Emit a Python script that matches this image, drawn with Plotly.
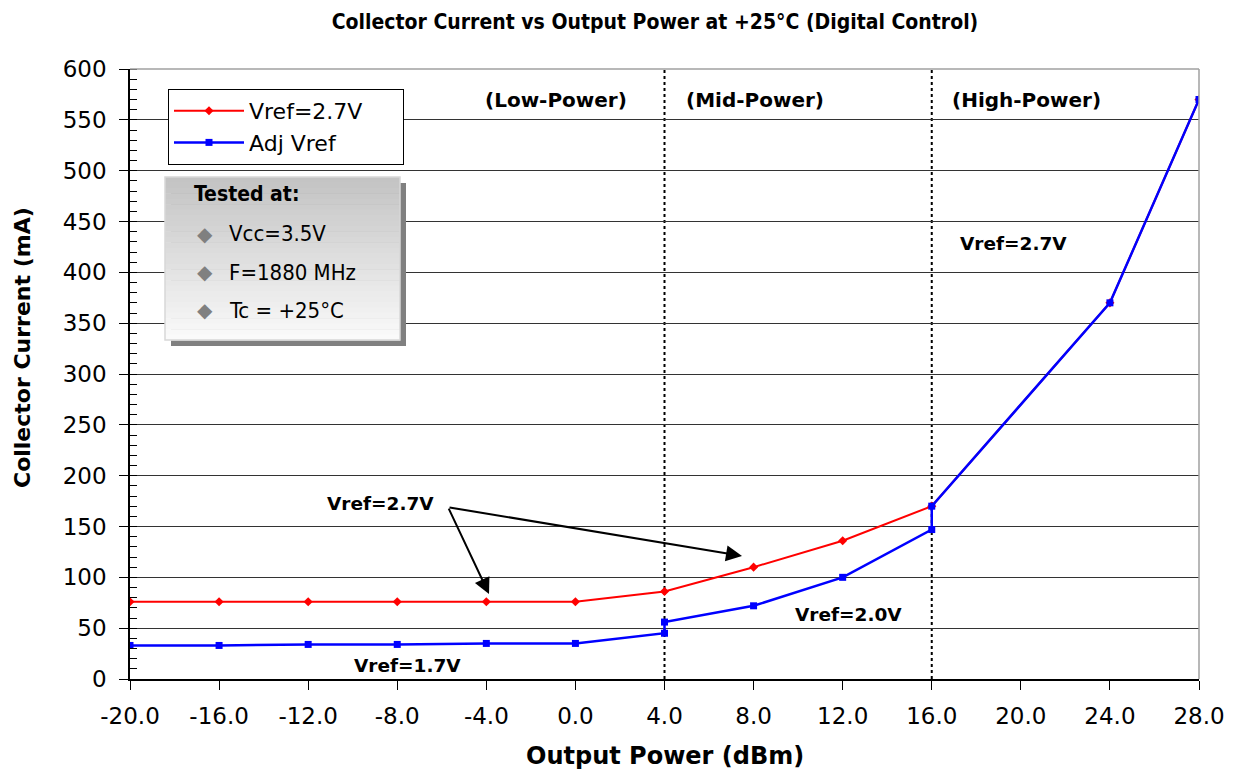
import plotly.graph_objects as go

# ---- data ----
red_x = [-20, -16, -12, -8, -4, 0, 4, 8, 12, 16, 24, 28]
red_y = [76, 76, 76, 76, 76, 76, 86, 110, 136, 170, 370, 570]
blue_x = [-20, -16, -12, -8, -4, 0, 4, 4, 8, 12, 16, 16, 24, 28]
blue_y = [33, 33, 34, 34, 35, 35, 45, 56, 72, 100, 147, 170, 370, 570]
x_ticks = [-20, -16, -12, -8, -4, 0, 4, 8, 12, 16, 20, 24, 28]
x_tick_labels = ["%.1f" % v for v in x_ticks]
region_lines = [4, 16]
tested_lines = ["Vcc=3.5V", "F=1880 MHz", "Tc = +25°C"]
series_names = ["Vref=2.7V", "Adj Vref"]

OFF = 8  # page body margin
W, H = 1240 - OFF, 771 - OFF
L, R, T, B = 130, 1199, 69, 679  # plot area in screen pixels

def px(x):
    return (x - L) / (R - L)

def py(y):
    return (B - y) / (B - T)

SANS = "DejaVu Sans, Liberation Sans, sans-serif"
COND = "DejaVu Sans Condensed, DejaVu Sans, sans-serif"
PAD = "\u00a0" * 5

fig = go.Figure()
fig.add_trace(go.Scatter(x=red_x, y=red_y, mode="lines+markers", name=series_names[0] + PAD,
                         line=dict(color="#ff0000", width=2),
                         marker=dict(symbol="diamond", size=7, color="#ff0000")))
fig.add_trace(go.Scatter(x=blue_x, y=blue_y, mode="lines+markers", name=series_names[1],
                         line=dict(color="#0000ff", width=2.5),
                         marker=dict(symbol="square", size=7, color="#0000ff")))

shapes = []
for xv in region_lines:
    shapes.append(dict(type="line", xref="x", yref="y", x0=xv, x1=xv, y0=0, y1=600,
                       line=dict(color="black", width=2, dash="dot"), layer="below"))
shapes.append(dict(type="line", xref="paper", yref="paper", x0=0, x1=1, y0=1, y1=1,
                   line=dict(color="#a0a0a0", width=1.5)))
shapes.append(dict(type="line", xref="paper", yref="paper", x0=1, x1=1, y0=0, y1=1,
                   line=dict(color="#a0a0a0", width=1.5)))

# "Tested at" box with shadow and gradient
bx0, bx1, by0, by1 = 165, 400, 177, 340
shapes.append(dict(type="rect", xref="paper", yref="paper",
                   x0=px(bx0 + 6), x1=px(bx1 + 6), y0=py(by1 + 6), y1=py(by0 + 6),
                   fillcolor="#808080", line=dict(width=0)))
n = 30
for i in range(n):
    ya = by0 + (by1 - by0) * i / n
    yb = by0 + (by1 - by0) * (i + 1) / n
    g = int(0xc4 + (0xfa - 0xc4) * i / (n - 1))
    shapes.append(dict(type="rect", xref="paper", yref="paper",
                       x0=px(bx0), x1=px(bx1), y0=py(yb + 0.5), y1=py(ya),
                       fillcolor="rgb(%d,%d,%d)" % (g, g, g), line=dict(width=0)))
shapes.append(dict(type="rect", xref="paper", yref="paper",
                   x0=px(bx0), x1=px(bx1), y0=py(by1), y1=py(by0),
                   fillcolor="rgba(0,0,0,0)", line=dict(color="#d8d8d8", width=1.5)))

ann = []
def label(txt, x, y, size=19, font=SANS, bold=True, color="black", xanchor="center"):
    t = "<b>%s</b>" % txt if bold else txt
    ann.append(dict(text=t, xref="paper", yref="paper", x=px(x), y=py(y), showarrow=False,
                    xanchor=xanchor, yanchor="middle", font=dict(family=font, size=size, color=color)))

label("(Low-Power)", 556, 100, size=20)
label("(Mid-Power)", 755, 100, size=20)
label("(High-Power)", 1026, 100, size=20)
label("Vref=2.7V", 1013, 243, size=18.5)
label("Vref=2.7V", 380, 503, size=18.5)
label("Vref=2.0V", 848, 614, size=18.5)
label("Vref=1.7V", 407, 665, size=18.5)

label("Tested at:", 192, 194, size=21, font=COND, xanchor="left")
for i, t in enumerate(tested_lines):
    yy = 234 + i * 38
    label("◆", 205, yy, size=20, bold=False, color="#808080")
    label(t, 227, yy, size=22, font=COND, bold=False, xanchor="left")

# arrows
tail = (-5.72, 169)
for head in [(7.48, 121), (-3.88, 83.6)]:
    ann.append(dict(x=head[0], y=head[1], ax=tail[0], ay=tail[1], xref="x", yref="y",
                    axref="x", ayref="y", text="", showarrow=True, arrowhead=2,
                    arrowsize=1.6, arrowwidth=2, arrowcolor="black", standoff=0))

# axis titles placed as annotations in fixed pixel positions
label("Output Power (dBm)", 665, 756, size=24)
ann.append(dict(text="<b>Collector Current (mA)</b>", xref="paper", yref="paper",
                x=px(22), y=py(348), showarrow=False, textangle=-90,
                xanchor="center", yanchor="middle",
                font=dict(family=SANS, size=22, color="black")))

fig.update_layout(
    width=W, height=H,
    margin=dict(l=L - OFF, r=W - (R - OFF), t=T - OFF, b=H - (B - OFF)),
    paper_bgcolor="white", plot_bgcolor="white",
    title=dict(text="<b>Collector Current vs Output Power at +25°C (Digital Control)</b>",
               x=(655 - OFF) / W, xanchor="center", y=1 - (22 - OFF) / H, yanchor="middle",
               font=dict(family=COND, size=21, color="black")),
    showlegend=True,
    legend=dict(x=px(168), y=py(89), xanchor="left", yanchor="top",
                bgcolor="white", bordercolor="black", borderwidth=1,
                font=dict(family=SANS, size=22, color="black"),
                itemwidth=70, tracegroupgap=0, valign="middle"),
    shapes=shapes, annotations=ann,
)
fig.update_xaxes(range=[-20, 28], tickvals=x_ticks, ticktext=x_tick_labels, automargin=False,
                 showgrid=False, zeroline=False, showline=True, linecolor="black", linewidth=1.5,
                 ticks="outside", ticklen=9, tickcolor="black", ticklabelstandoff=7,
                 tickfont=dict(family=SANS, size=23, color="black"))
fig.update_yaxes(range=[0, 600], tickvals=list(range(0, 601, 50)), automargin=False,
                 showgrid=True, gridcolor="#333333", gridwidth=1,
                 zeroline=False, showline=True, linecolor="black", linewidth=1.5,
                 ticks="outside", ticklen=9, tickcolor="black", ticklabelstandoff=8,
                 minor=dict(dtick=10, ticks="inside", ticklen=7, tickcolor="black", showgrid=False),
                 tickfont=dict(family=SANS, size=23, color="black"))

fig.write_html("out.html")
